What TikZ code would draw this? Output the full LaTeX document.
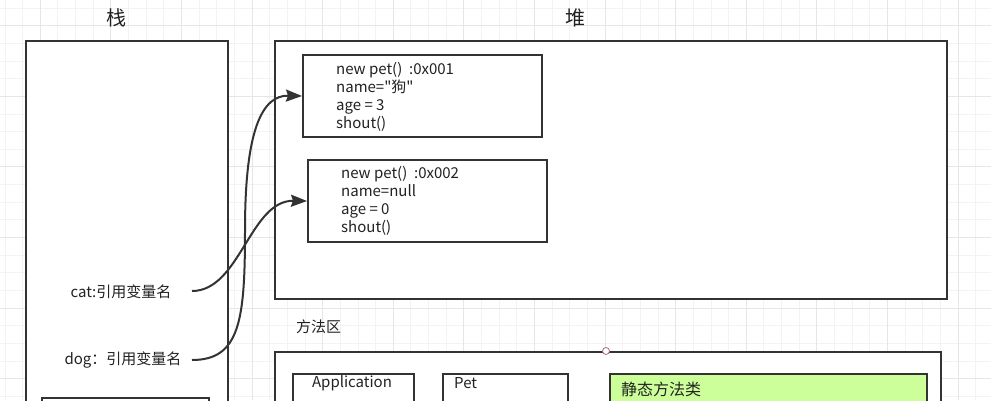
\documentclass[tikz,border=0pt]{standalone}
\usepackage{fontspec}
\setmainfont{Noto Sans CJK SC}[Ligatures=TeXOff]
\usetikzlibrary{arrows.meta}
\definecolor{ink}{HTML}{333333}
\definecolor{textink}{HTML}{222222}
\definecolor{gridminor}{HTML}{F3F3F3}
\definecolor{gridmajor}{HTML}{E6E6E6}
\definecolor{staticgreen}{HTML}{CCFF99}
\definecolor{handle}{HTML}{B06A7A}
\begin{document}
\begin{tikzpicture}[x=1pt,y=-1pt,
  box/.style={draw=ink, line width=2pt, fill=white, rectangle, anchor=north west, inner sep=0pt},
  title/.style={text=textink, font=\fontsize{20}{24}\selectfont},
  txt/.style={text=textink, font=\fontsize{15}{18}\selectfont, inner sep=0pt},
  objtxt/.style={txt, align=left, anchor=west},
  conn/.style={draw=ink, line width=2pt, -{Stealth[length=16pt,width=12pt,inset=2pt]}}
]
\useasboundingbox (0,0) rectangle (991,400);
\clip (0,0) rectangle (991,400);
\fill[white] (0,0) rectangle (991,400);
% grid
\foreach \i in {0,...,56} {
  \draw[gridminor, line width=0.8pt] ({4.9+\i*17.65},0) -- ({4.9+\i*17.65},400);
}
\foreach \j in {0,...,23} {
  \draw[gridminor, line width=0.8pt] (0,{8+\j*17.65}) -- (991,{8+\j*17.65});
}
\foreach \i in {0,...,14} {
  \draw[gridmajor, line width=0.8pt] ({40.2+\i*70.6},0) -- ({40.2+\i*70.6},400);
}
\foreach \j in {0,...,6} {
  \draw[gridmajor, line width=0.8pt] (0,{25.6+\j*70.6}) -- (991,{25.6+\j*70.6});
}

% titles
\node[title] (stacklbl) at (116,18) {栈};
\node[title] (heaplbl) at (575,18) {堆};

% stack
\node[box, minimum width=202pt, minimum height=400pt] (stack) at (25,40) {};
\node[box, minimum width=167pt, minimum height=60pt] (stackinner) at (41,397) {};
\node[txt] (cat) at (121,292) {cat:引用变量名};
\node[txt] (dog) at (123,360) {dog：引用变量名};
\coordinate (catout) at (192,291);
\coordinate (dogout) at (192,360);

% heap
\node[box, minimum width=672pt, minimum height=258pt] (heap) at (274,40) {};
\node[box, minimum width=239pt, minimum height=82pt] (obj1) at (302,54) {};
\node[objtxt] (obj1txt) at (336,97) {new pet()~ :0x001\\name="狗"\\age = 3\\shout()};
\node[box, minimum width=239pt, minimum height=82pt] (obj2) at (307,159) {};
\node[objtxt] (obj2txt) at (341,201) {new pet()~ :0x002\\name=null\\age = 0\\shout()};

% method area
\node[txt, anchor=west] (methodlbl) at (296,327) {方法区};
\node[box, minimum width=666pt, minimum height=100pt] (method) at (274,351) {};
\node[circle, draw=handle, fill=white, inner sep=0pt, minimum size=7pt, line width=0.8pt] (handlept) at (606,351) {};
\node[box, minimum width=121pt, minimum height=60pt] (app) at (292,373) {};
\node[txt] (apptxt) at (352,383) {Application};
\node[box, minimum width=125pt, minimum height=60pt] (pet) at (442,373) {};
\node[txt, anchor=west] (pettxt) at (454,383) {Pet};
\node[box, fill=staticgreen, minimum width=317pt, minimum height=60pt] (static) at (609,373) {};
\node[txt, anchor=west, font=\fontsize{16}{18}\selectfont] (statictxt) at (621,389) {静态方法类};

% connectors
\draw[conn] (dogout) .. controls (240,360) and (245,320) .. (245,230)
  .. controls (245,130) and (262,95) .. (obj1.west);
\draw[conn] (catout) .. controls (240,291) and (250,200) .. (obj2.west);
\end{tikzpicture}
\end{document}
